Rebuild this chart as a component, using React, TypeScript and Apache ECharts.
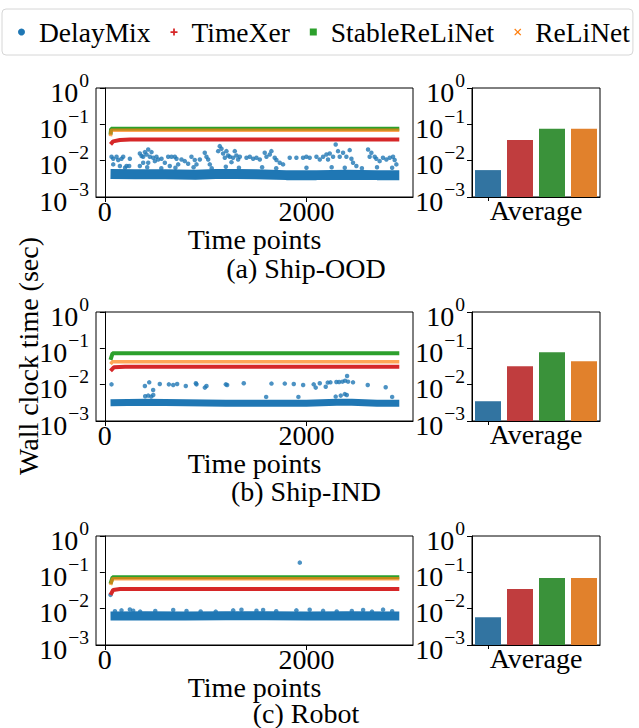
import React, { useEffect, useRef } from 'react';
import * as echarts from 'echarts';

const MODELS = ['DelayMix', 'TimeXer', 'StableReLiNet', 'ReLiNet'];
const PANEL_TITLES = ['(a) Ship-OOD', '(b) Ship-IND', '(c) Robot'];
const X_TICKS = [0, 2000];
const Y_TICKS_EVEN = [1, 0.01];
const Y_TICKS_ODD = [0.1, 0.001];
const X_NAME = 'Time points';
const BAR_NAME = 'Average';
const Y_NAME = 'Wall clock time (sec)';

// Average wall clock time per model [DelayMix, TimeXer, StableReLiNet, ReLiNet]
const avgShipOOD = [0.0055, 0.037, 0.075, 0.075];
const avgShipIND = [0.0035, 0.032, 0.078, 0.044];
const avgRobot = [0.0058, 0.035, 0.070, 0.070];

// ---- (a) Ship-OOD ----
const oodDelayBand = [[56, 0.0043], [300, 0.0042], [600, 0.0042], [900, 0.0041], [1100, 0.0043], [1300, 0.0043], [1500, 0.0042], [1800, 0.0040], [2100, 0.0040], [2400, 0.0041], [2700, 0.0040], [2921, 0.0040]];
const oodDelayOut = [
  [66, 0.0128], [83, 0.0113], [116, 0.0128], [132, 0.0104], [165, 0.0113], [182, 0.0128], [83, 0.0079], [149, 0.0071], [215, 0.0071], [248, 0.0113], [241, 0.0071],
  [347, 0.0158], [364, 0.0134], [380, 0.0128], [397, 0.0172], [413, 0.0148], [430, 0.0203], [446, 0.0128], [463, 0.0172], [479, 0.0120], [496, 0.0097], [512, 0.0128], [529, 0.0108], [430, 0.0088], [380, 0.0088], [347, 0.0071],
  [562, 0.0113], [595, 0.0088], [628, 0.0128], [661, 0.0128], [694, 0.0128], [711, 0.0113], [727, 0.0079], [644, 0.0071],
  [760, 0.0108], [793, 0.0097], [826, 0.0082], [859, 0.0128], [892, 0.0104], [909, 0.0079], [942, 0.0108],
  [991, 0.0165], [1008, 0.0128], [1025, 0.0108], [1041, 0.0079],
  [1124, 0.0183], [1140, 0.0251], [1157, 0.0212], [1173, 0.0158], [1190, 0.0120], [1206, 0.0183], [1223, 0.0139], [1239, 0.0128], [1256, 0.0091], [1272, 0.0120], [1289, 0.0183], [1305, 0.0139], [1322, 0.0108], [1339, 0.0128],
  [1405, 0.0120], [1438, 0.0128], [1471, 0.0113], [1504, 0.0120], [1537, 0.0108],
  [1586, 0.0165], [1603, 0.0128], [1636, 0.0148], [1652, 0.0183], [1685, 0.0120], [1702, 0.0104], [1735, 0.0088], [1768, 0.0079],
  [1834, 0.0120], [1900, 0.0120], [1966, 0.0120], [1999, 0.0128], [2032, 0.0120], [2099, 0.0128], [2132, 0.0108], [2165, 0.0128], [2198, 0.0148], [2214, 0.0108], [2231, 0.0158], [2264, 0.0128], [2290, 0.0279], [2313, 0.0183], [2330, 0.0128], [2363, 0.0165], [2396, 0.0128], [2429, 0.0195], [2446, 0.0113], [2462, 0.0088], [2495, 0.0071],
  [2611, 0.0203], [2627, 0.0128], [2644, 0.0165], [2677, 0.0128], [2693, 0.0113], [2726, 0.0097], [2759, 0.0120], [2793, 0.0108], [2826, 0.0120], [2859, 0.0128], [2875, 0.0104], [2892, 0.0079],
  [200, 0.0064], [420, 0.0066], [560, 0.0062], [700, 0.0064], [880, 0.0066], [1060, 0.0062], [1200, 0.0068], [1330, 0.0064], [1560, 0.0066], [1700, 0.0062], [2000, 0.0064], [2250, 0.0066], [2380, 0.0064], [2550, 0.0062], [2700, 0.0066], [2850, 0.0064],
];
const oodTimeXer = [[56, 0.028], [82, 0.034], [149, 0.037], [250, 0.038], [2921, 0.038]];
const oodStable = [[56, 0.052], [62, 0.075], [2921, 0.075]];
const oodReLiNet = [[56, 0.047], [62, 0.069], [2921, 0.069]];

// ---- (b) Ship-IND ----
const indDelayBand = [[56, 0.0032], [400, 0.0033], [800, 0.0032], [1200, 0.0031], [1600, 0.0031], [2000, 0.0031], [2300, 0.0033], [2450, 0.0033], [2700, 0.0031], [2921, 0.0031]];
const indDelayOut = [
  [66, 0.0102], [397, 0.0092], [440, 0.0116], [479, 0.0071], [545, 0.0104], [635, 0.0102], [678, 0.0098], [717, 0.0104], [803, 0.0092], [903, 0.0109], [909, 0.0102], [992, 0.0083], [1008, 0.0092], [1200, 0.0102], [1213, 0.0098], [1378, 0.0109], [1653, 0.0107], [1785, 0.0107], [1874, 0.0104], [1967, 0.0098], [2072, 0.0102], [2092, 0.0083], [2132, 0.0109], [2191, 0.0088], [2211, 0.0114], [2238, 0.0116], [2297, 0.0118], [2324, 0.0118], [2357, 0.0121], [2383, 0.0129], [2403, 0.0173], [2413, 0.0121], [2462, 0.0116], [2608, 0.0098], [2786, 0.0085],
  [400, 0.0048], [430, 0.0050], [460, 0.0047], [480, 0.0052], [2290, 0.0047], [2340, 0.0050], [2380, 0.0055], [2400, 0.0052], [1600, 0.0046], [1920, 0.0046], [2850, 0.0046],
];
const indTimeXer = [[56, 0.024], [89, 0.030], [200, 0.031], [2921, 0.031]];
const indStable = [[56, 0.048], [76, 0.073], [2921, 0.073]];
const indReLiNet = [[56, 0.037], [76, 0.043], [2921, 0.043]];

// ---- (c) Robot ----
const robDelayBand = [[56, 0.0063], [400, 0.0064], [800, 0.0063], [1200, 0.0064], [1600, 0.0064], [2000, 0.0063], [2400, 0.0064], [2921, 0.0063]];
const robDelayOut = [
  [165, 0.0090], [248, 0.0095], [281, 0.0088], [678, 0.0092], [810, 0.0086], [1273, 0.0090], [1355, 0.0093], [1504, 0.0088], [1570, 0.0092], [1900, 0.0090], [2032, 0.0093], [2165, 0.0087], [2562, 0.0092], [2760, 0.0094],
  [100, 0.0085], [350, 0.0083], [500, 0.0086], [950, 0.0084], [1100, 0.0083], [1700, 0.0085], [2300, 0.0084], [2450, 0.0086], [2650, 0.0083], [2850, 0.0085],
  [1934, 0.185], [56, 0.024],
];
const robTimeXer = [[56, 0.024], [82, 0.0327], [150, 0.0348], [2921, 0.0348]];
const robStable = [[56, 0.048], [76, 0.073], [2921, 0.073]];
const robReLiNet = [[56, 0.045], [76, 0.067], [2921, 0.067]];

const FONT = "'Liberation Serif', 'Times New Roman', serif";
const BLUE = '#1f77b4';
const RED = '#d62728';
const GREEN = '#2ca02c';
const ORANGE = '#ff7f0e';
const BAR_COLORS = ['#3274a1', '#c03d3e', '#3a923a', '#e1812c'];

const logLabel = (v: number) => {
  const e = Math.round(Math.log10(v));
  return `{b|10}{s|${e < 0 ? '\u2212' + -e : e}}`;
};

const RICH = {
  b: { fontSize: 28, lineHeight: 36, fontFamily: FONT, color: '#000', verticalAlign: 'bottom' },
  s: { fontSize: 19.6, lineHeight: 10, fontFamily: FONT, color: '#000', verticalAlign: 'top', padding: [0, 0, 0, 1] },
};

// primary log axis (line, ticks, labels 10^0 and 10^-2)
function yAxisMain(gridIndex: number) {
  return {
    type: 'log', logBase: 10, min: 0.001, max: 1, gridIndex, startValue: 0.001, position: 'left',
    axisLine: { show: true, lineStyle: { color: '#000', width: 1 } },
    axisTick: { show: true, length: 5, lineStyle: { color: '#000', width: 1 } },
    splitLine: { show: false },
    axisLabel: { margin: 7, customValues: Y_TICKS_EVEN, showMinLabel: true, showMaxLabel: true, formatter: logLabel, rich: RICH },
  };
}
// companion log axis carrying the 10^-1 and 10^-3 labels
function yAxisAlt(gridIndex: number) {
  return {
    type: 'log', logBase: 10, min: 0.001, max: 1, gridIndex, position: 'left', offset: 0,
    axisLine: { show: false },
    axisTick: { show: false },
    splitLine: { show: false },
    axisLabel: { margin: 7, customValues: Y_TICKS_ODD, showMinLabel: true, showMaxLabel: true, formatter: logLabel, rich: RICH },
  };
}

function buildOption() {
  const panels = [
    { top: 88, band: oodDelayBand, out: oodDelayOut, bw: 10, tx: oodTimeXer, st: oodStable, re: oodReLiNet, avg: avgShipOOD, ty: 268, ng: 28 },
    { top: 312, band: indDelayBand, out: indDelayOut, bw: 7, tx: indTimeXer, st: indStable, re: indReLiNet, avg: avgShipIND, ty: 491, ng: 28 },
    { top: 536, band: robDelayBand, out: robDelayOut, bw: 9, tx: robTimeXer, st: robStable, re: robReLiNet, avg: avgRobot, ty: 713, ng: 23 },
  ];
  const grid: any[] = [];
  const xAxis: any[] = [];
  const yAxes: any[] = [];
  const series: any[] = [];
  const graphic: any[] = [];
  const textStyle = { fontSize: 28, fontFamily: FONT, color: '#000' };
  panels.forEach((p, i) => {
    const li = 2 * i;
    const bi = 2 * i + 1;
    grid.push({ left: 96, top: p.top, width: 317, height: 109, show: true, borderColor: '#000', borderWidth: 1, backgroundColor: 'transparent' });
    grid.push({ left: 472, top: p.top, width: 128, height: 109, show: true, borderColor: '#000', borderWidth: 1, backgroundColor: 'transparent' });
    xAxis.push({
      type: 'value', gridIndex: li, min: -88, max: 3057,
      axisLine: { show: true, onZero: false, lineStyle: { color: '#000', width: 1 } },
      axisTick: { show: true, length: 5, customValues: X_TICKS, lineStyle: { color: '#000' } },
      axisLabel: { customValues: X_TICKS, ...textStyle, lineHeight: 28, margin: 0, formatter: (v: number) => String(v) },
      splitLine: { show: false },
      name: X_NAME, nameLocation: 'middle', nameGap: p.ng, nameTextStyle: { ...textStyle, lineHeight: 22 },
    });
    xAxis.push({
      type: 'category', gridIndex: bi, data: MODELS,
      axisLine: { show: true, onZero: false, lineStyle: { color: '#000', width: 1 } },
      axisTick: { show: true, alignWithLabel: true, length: 4, lineStyle: { color: '#000' } },
      axisLabel: { show: false },
      splitLine: { show: false },
      name: BAR_NAME, nameLocation: 'middle', nameGap: -1, nameTextStyle: { ...textStyle, lineHeight: 28 },
    });
    // y axes: 4 per panel -> index 4i (line main), 4i+1 (bar main), 4i+2 (line alt), 4i+3 (bar alt)
    yAxes.push(yAxisMain(li));
    yAxes.push(yAxisMain(bi));
    yAxes.push(yAxisAlt(li));
    yAxes.push(yAxisAlt(bi));
    const ly = 4 * i;
    const by = 4 * i + 1;
    series.push({ name: 'DelayMix', type: 'line', xAxisIndex: li, yAxisIndex: ly, data: p.band, symbol: 'none', lineStyle: { width: p.bw, color: BLUE, cap: 'butt' }, itemStyle: { color: BLUE } });
    series.push({ name: 'DelayMix', type: 'scatter', xAxisIndex: li, yAxisIndex: ly, data: p.out, symbolSize: 4.5, itemStyle: { color: BLUE } });
    series.push({ name: 'TimeXer', type: 'line', xAxisIndex: li, yAxisIndex: ly, data: p.tx, symbol: 'none', lineStyle: { width: 4, color: RED }, itemStyle: { color: RED } });
    series.push({ name: 'StableReLiNet', type: 'line', xAxisIndex: li, yAxisIndex: ly, data: p.st, symbol: 'none', lineStyle: { width: 4, color: GREEN }, itemStyle: { color: GREEN } });
    series.push({ name: 'ReLiNet', type: 'line', xAxisIndex: li, yAxisIndex: ly, data: p.re, symbol: 'none', lineStyle: { width: 3.5, color: ORANGE, opacity: 0.7 }, itemStyle: { color: ORANGE } });
    series.push({
      name: BAR_NAME, type: 'bar', xAxisIndex: bi, yAxisIndex: by, barWidth: 26,
      data: p.avg.map((v, k) => ({ value: v, itemStyle: { color: BAR_COLORS[k] } })),
    });
    graphic.push({ type: 'text', x: 306, y: p.ty, style: { text: PANEL_TITLES[i], fill: '#000', align: 'center', verticalAlign: 'middle', font: `28px ${FONT}` } });
  });
  graphic.push({ type: 'text', x: 28, y: 356, rotation: Math.PI / 2, style: { text: Y_NAME, fill: '#000', align: 'center', verticalAlign: 'middle', font: `28px ${FONT}` } });

  return {
    animation: false,
    backgroundColor: '#fff',
    grid,
    xAxis,
    yAxis: yAxes,
    series,
    graphic,
    legend: {
      left: 2, top: 9, orient: 'horizontal',
      padding: [7, 3, 7, 16], itemGap: 20, itemWidth: 7, itemHeight: 7,
      borderColor: '#d6d6d6', borderWidth: 1, borderRadius: 4,
      textStyle: { fontSize: 27.5, fontFamily: FONT, color: '#000', lineHeight: 32, padding: [0, 0, 0, 9] },
      data: [
        { name: 'DelayMix', icon: 'circle', itemStyle: { color: BLUE } },
        { name: 'TimeXer', icon: 'path://M3,0h2v3h3v2h-3v3h-2v-3h-3v-2h3z', itemStyle: { color: RED } },
        { name: 'StableReLiNet', icon: 'rect', itemStyle: { color: GREEN } },
        { name: 'ReLiNet', icon: 'path://M1,0L4,3L7,0L8,1L5,4L8,7L7,8L4,5L1,8L0,7L3,4L0,1Z', itemStyle: { color: ORANGE } },
      ],
    },
  };
}

export default function App() {
  const ref = useRef<HTMLDivElement>(null);
  useEffect(() => {
    document.body.style.margin = '0';
    const chart = echarts.init(ref.current!, null, { renderer: 'svg' });
    chart.setOption(buildOption() as any);
    return () => chart.dispose();
  }, []);
  return <div ref={ref} style={{ position: 'absolute', left: 0, top: 0, width: 639, height: 728 }} />;
}
